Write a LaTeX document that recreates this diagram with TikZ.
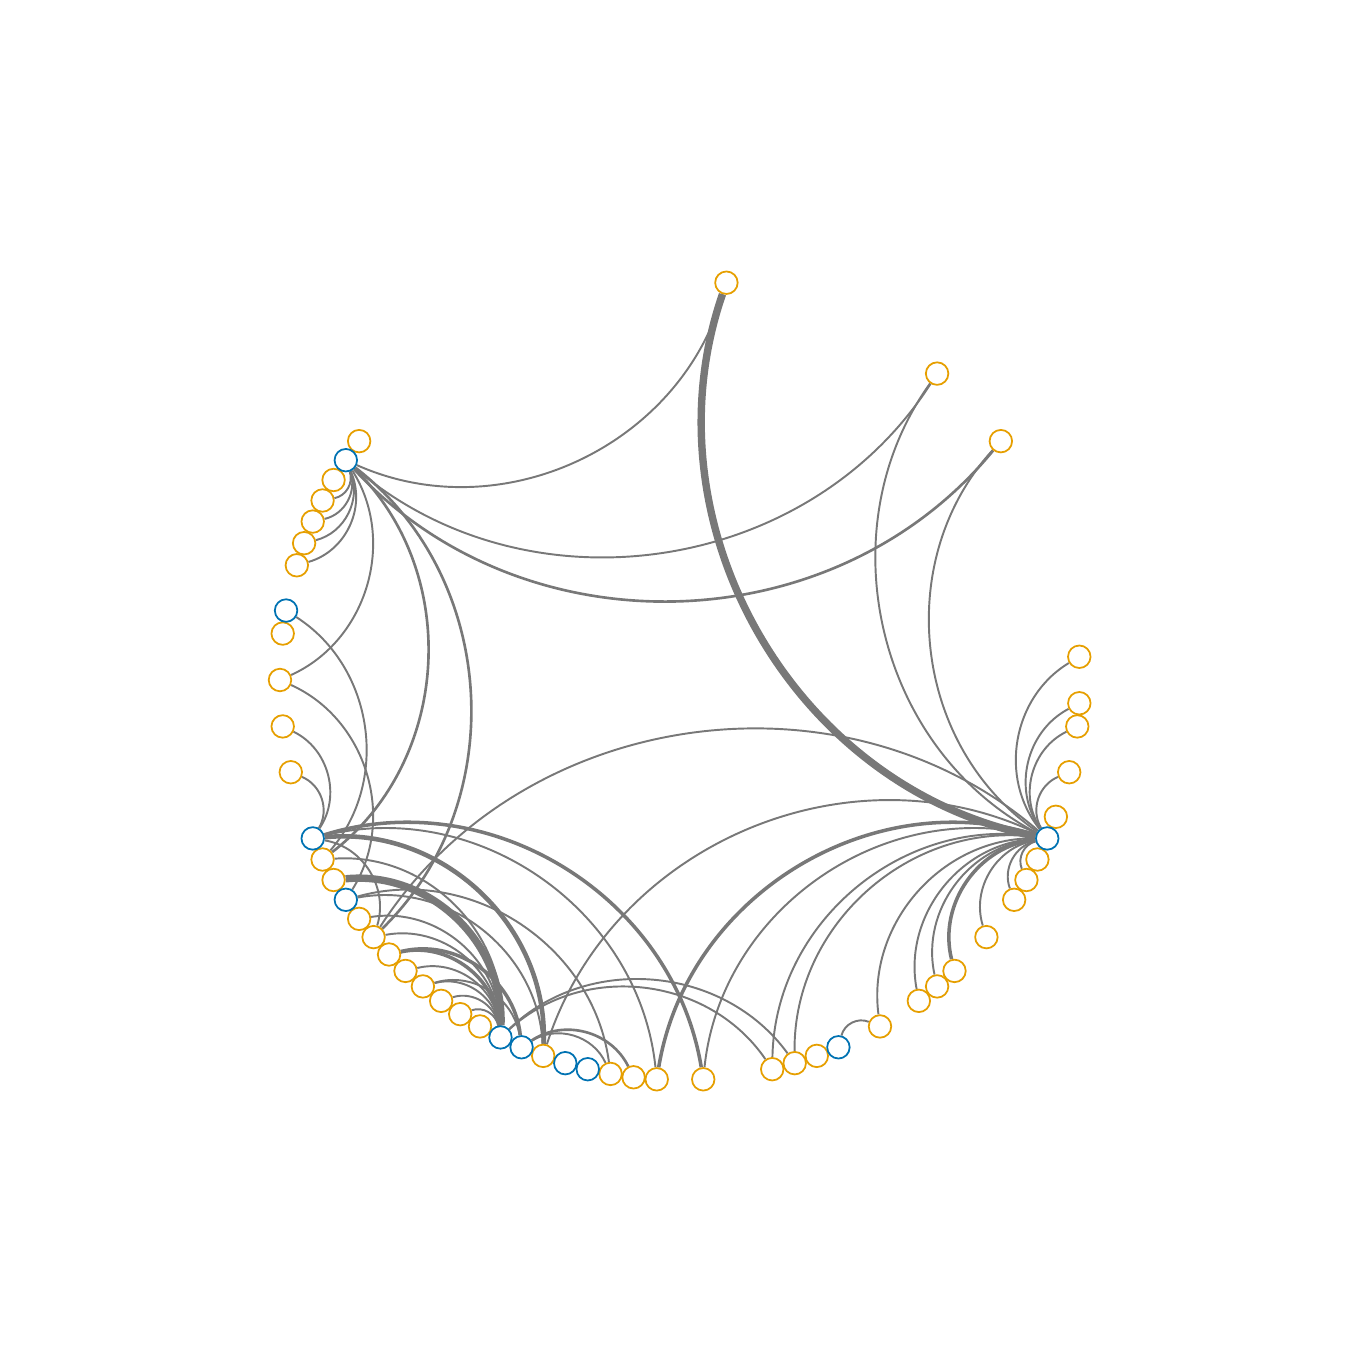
\documentclass[tikz,border=0pt]{standalone}
\usepackage{tikz}
\pgfdeclarelayer{bg}
\pgfsetlayers{bg,main}
\definecolor{ora}{RGB}{230,159,0}
\definecolor{blu}{RGB}{0,114,178}
\definecolor{edg}{RGB}{120,120,120}
\tikzset{
  vo/.style={circle,draw=ora,fill=white,line width=0.5pt,minimum size=0.225cm,inner sep=0pt},
  vb/.style={vo,draw=blu},
  edge/.style={draw=edg,line width=0.55pt,looseness=1.0},
  w2/.style={line width=0.75pt},
  w3/.style={line width=1.0pt},
  w4/.style={line width=1.3pt},
  w6/.style={line width=2.1pt}
}
\newcommand\bendang{49}
\newcommand\E[3][]{%
  \pgfmathtruncatemacro\dd{mod(#3-#2+108,108)}%
  \ifnum\dd<54\relax
    \draw[edge,#1] (n#2) to[bend left=\bendang] (n#3);
  \else
    \draw[edge,#1] (n#2) to[bend right=\bendang] (n#3);
  \fi}
\begin{document}
\begin{tikzpicture}[x=0.01cm,y=0.01cm]
\path[use as bounding box] (-680,-680) rectangle (680,680);
\foreach \k in {1,11,15,25,43,45,46,47,48,49,52,54,56,58,62,63,65,66,67,68,69,70,71,72,75,78,79,80,82,85,86,87,90,92,93,94,96,98,99,100,102,104,106,107}
  \node[vo] (n\k) at ({\k*10/3}:400) {};
\foreach \k in {44,51,61,64,73,74,76,77,88,101}
  \node[vb] (n\k) at ({\k*10/3}:400) {};
\begin{pgfonlayer}{bg}
% B1
\E{44}{25}\E{44}{15}\E[w2]{44}{11}
\E{44}{46}\E{44}{47}\E{44}{48}\E{44}{49}
\E{44}{54}\E[w2]{44}{62}\E[w2]{44}{66}
% B2
\E{51}{62}
% B3
\E{61}{56}\E{61}{58}\E{61}{66}\E[w4]{61}{75}\E{61}{80}\E[w3]{61}{82}
% B4
\E{64}{54}\E{64}{75}\E{64}{78}
% B5
\E{73}{62}\E[w6]{73}{63}\E{73}{65}\E{73}{66}\E[w3]{73}{67}\E{73}{68}\E{73}{69}\E{73}{70}\E{73}{71}
\E{73}{85}\E{73}{86}
% B6
\E[w3]{74}{67}\E{74}{69}\E{74}{78}\E[w2]{74}{79}
% B9
\E{88}{90}
% B10
\E[w6]{101}{25}\E{101}{15}\E{101}{11}\E{101}{1}\E{101}{107}\E{101}{106}\E{101}{104}
\E{101}{99}\E{101}{98}\E{101}{96}\E[w3]{101}{94}\E{101}{93}\E{101}{92}\E{101}{90}
\E{101}{86}\E{101}{85}\E{101}{82}\E[w3]{101}{80}\E{101}{75}\E{101}{66}
\end{pgfonlayer}
\end{tikzpicture}
\end{document}
